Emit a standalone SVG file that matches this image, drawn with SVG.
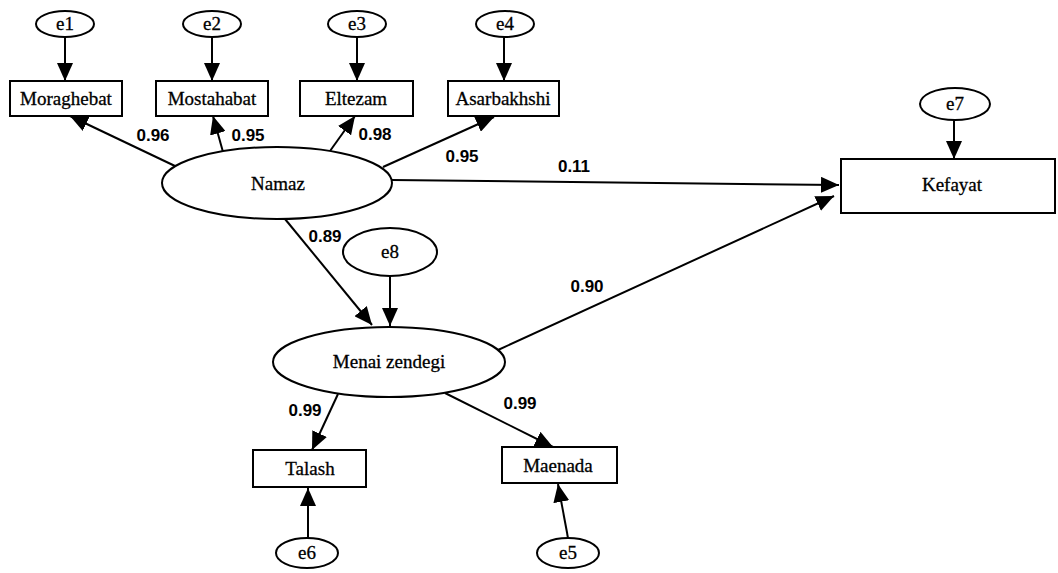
<svg xmlns="http://www.w3.org/2000/svg" width="1058" height="573" viewBox="0 0 1058 573">
<style>
.n{fill:#fff;stroke:#000;stroke-width:2}
.t{font-family:"Liberation Serif","Times New Roman",serif;font-size:19px;text-anchor:middle;fill:#000;stroke:#000;stroke-width:0.3}
.c{stroke:#000;stroke-width:2;fill:none;marker-end:url(#ah)}
.l{font-family:"Liberation Sans",Arial,sans-serif;font-size:17px;font-weight:bold;text-anchor:middle;fill:#000}
</style>
<defs>
<marker id="ah" viewBox="0 0 18 16" refX="18" refY="8" markerWidth="18" markerHeight="16" markerUnits="userSpaceOnUse" orient="auto"><path d="M0,0 L18,8 L0,16 z" fill="#000"/></marker>
</defs>
<rect width="1058" height="573" fill="#fff"/>
<g id="connectors">
<line class="c" x1="65" y1="37" x2="65" y2="81"/>
<line class="c" x1="212" y1="37" x2="212" y2="81"/>
<line class="c" x1="357" y1="37" x2="357" y2="81"/>
<line class="c" x1="504" y1="37" x2="504" y2="81"/>
<line class="c" x1="954" y1="120" x2="954" y2="159"/>
<line class="c" x1="175" y1="166" x2="70" y2="116"/>
<line class="c" x1="223" y1="152" x2="213" y2="116"/>
<line class="c" x1="330" y1="151" x2="355" y2="116"/>
<line class="c" x1="383" y1="167" x2="494" y2="117"/>
<line class="c" x1="392" y1="180" x2="839" y2="185"/>
<line class="c" x1="285" y1="219" x2="372" y2="325"/>
<line class="c" x1="390" y1="276" x2="390" y2="326"/>
<line class="c" x1="498" y1="350" x2="834" y2="196"/>
<line class="c" x1="338" y1="394" x2="312" y2="450"/>
<line class="c" x1="445" y1="393" x2="553" y2="447"/>
<line class="c" x1="308" y1="538" x2="308" y2="488"/>
<line class="c" x1="568" y1="538" x2="558" y2="484"/>
<text class="l" x="153" y="141">0.96</text>
<text class="l" x="248" y="141">0.95</text>
<text class="l" x="375" y="140">0.98</text>
<text class="l" x="462" y="162">0.95</text>
<text class="l" x="574" y="172">0.11</text>
<text class="l" x="325" y="242">0.89</text>
<text class="l" x="587" y="292">0.90</text>
<text class="l" x="305" y="416">0.99</text>
<text class="l" x="520" y="409">0.99</text>
</g>
<g id="e1"><ellipse class="n" cx="65" cy="24" rx="29" ry="13"/><text class="t" x="65" y="30">e1</text></g>
<g id="e2"><ellipse class="n" cx="212" cy="24" rx="29" ry="13"/><text class="t" x="212" y="30">e2</text></g>
<g id="e3"><ellipse class="n" cx="357" cy="24" rx="29" ry="13"/><text class="t" x="357" y="30">e3</text></g>
<g id="e4"><ellipse class="n" cx="505" cy="24" rx="29" ry="13"/><text class="t" x="505" y="30">e4</text></g>
<g id="Moraghebat"><rect class="n" x="10" y="81" width="112" height="35"/><text class="t" x="66" y="105">Moraghebat</text></g>
<g id="Mostahabat"><rect class="n" x="156" y="81" width="112" height="35"/><text class="t" x="212" y="105">Mostahabat</text></g>
<g id="Eltezam"><rect class="n" x="300" y="81" width="113" height="35"/><text class="t" x="356" y="105">Eltezam</text></g>
<g id="Asarbakhshi"><rect class="n" x="448" y="81" width="111" height="35"/><text class="t" x="503" y="105">Asarbakhshi</text></g>
<g id="Namaz"><ellipse class="n" cx="277" cy="183" rx="115" ry="36"/><text class="t" x="278" y="190">Namaz</text></g>
<g id="e7"><ellipse class="n" cx="955" cy="104" rx="35" ry="16"/><text class="t" x="955" y="110">e7</text></g>
<g id="Kefayat"><rect class="n" x="841" y="159" width="214" height="54"/><text class="t" x="952" y="191">Kefayat</text></g>
<g id="e8"><ellipse class="n" cx="390" cy="252" rx="47" ry="24"/><text class="t" x="390" y="258">e8</text></g>
<g id="Menai_zendegi"><ellipse class="n" cx="389" cy="362" rx="116" ry="35"/><text class="t" x="389" y="368">Menai zendegi</text></g>
<g id="Talash"><rect class="n" x="253" y="450" width="113" height="37"/><text class="t" x="310" y="475">Talash</text></g>
<g id="Maenada"><rect class="n" x="502" y="447" width="115" height="36"/><text class="t" x="558" y="472">Maenada</text></g>
<g id="e6"><ellipse class="n" cx="307" cy="553" rx="31" ry="15"/><text class="t" x="307" y="559">e6</text></g>
<g id="e5"><ellipse class="n" cx="568" cy="553" rx="31" ry="15"/><text class="t" x="568" y="559">e5</text></g>
</svg>
